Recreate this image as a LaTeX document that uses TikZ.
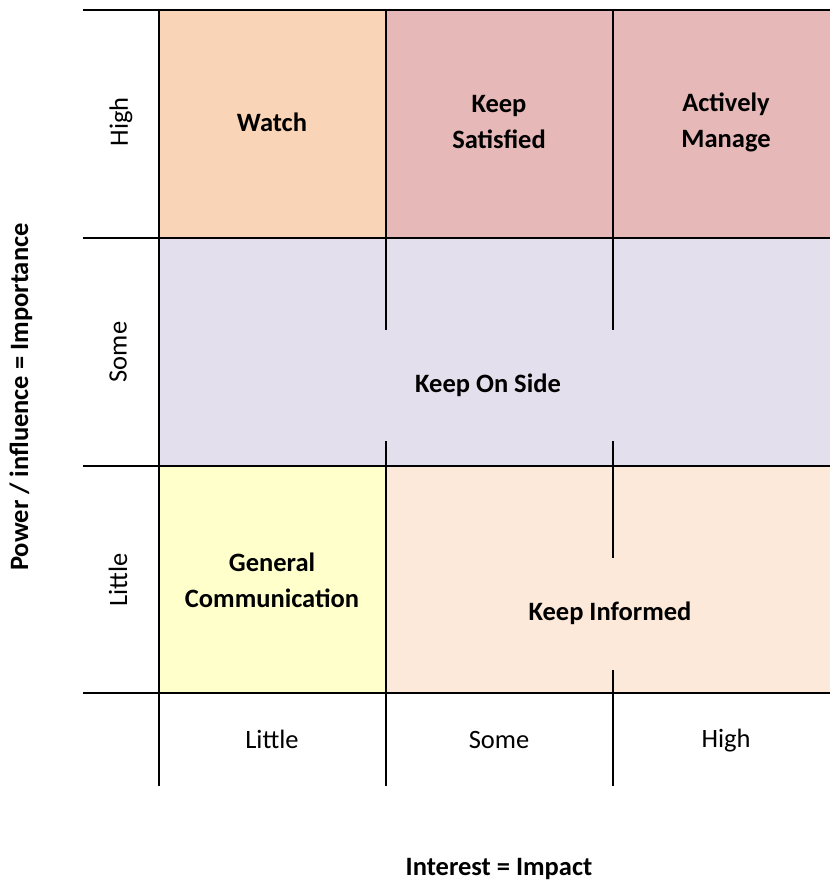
\documentclass[tikz,border=0pt]{standalone}
\usepackage{fontspec}
\setmainfont{Carlito}
\definecolor{cWatch}{HTML}{FAD4B6}
\definecolor{cSat}{HTML}{E6B8B7}
\definecolor{cSide}{HTML}{E4DFEC}
\definecolor{cGen}{HTML}{FFFFCC}
\definecolor{cInf}{HTML}{FDE9DA}
\tikzset{
  grid/.style={line width=2.4pt, black},
  celltext/.style={font=\fontsize{26.5}{36}\selectfont\bfseries, align=center, text=black},
  axtext/.style={font=\fontsize{26.5}{30}\selectfont, text=black},
  axtitle/.style={font=\fontsize{26.5}{30}\selectfont\bfseries, text=black}
}
\begin{document}
\begin{tikzpicture}[x=1pt, y=-1pt]
\useasboundingbox (0,0) rectangle (830,882);
% fills
\fill[cWatch] (159,10) rectangle (386,238);
\fill[cSat] (386,10) rectangle (830,238);
\fill[cSide] (159,238) rectangle (830,466);
\fill[cGen] (159,466) rectangle (386,693);
\fill[cInf] (386,466) rectangle (830,693);
% horizontal lines
\draw[grid] (83,10) -- (830,10);
\draw[grid] (83,238) -- (830,238);
\draw[grid] (83,466) -- (830,466);
\draw[grid] (83,693) -- (830,693);
% vertical lines
\draw[grid] (159,10) -- (159,786);
\draw[grid] (386,10) -- (386,330);
\draw[grid] (386,441) -- (386,786);
\draw[grid] (613,10) -- (613,330);
\draw[grid] (613,441) -- (613,558);
\draw[grid] (613,670) -- (613,786);
% cell labels
\node[celltext] (watch) at (272,122) {Watch};
\node[celltext] (sat) at (499,122) {Keep\\Satisfied};
\node[celltext] (act) at (726,122) {Actively\\Manage};
\node[celltext] (side) at (488,385) {Keep On Side};
\node[celltext] (gen) at (272,580) {General\\Communication};
\node[celltext] (inf) at (610,613) {Keep Informed};
% axis labels
\node[axtext] (xl) at (272,739) {Little};
\node[axtext] (xs) at (499,740) {Some};
\node[axtext] (xh) at (726,741) {High};
\node[axtext, rotate=90] (yh) at (121,122) {High};
\node[axtext, rotate=90] (ys) at (118,352) {Some};
\node[axtext, rotate=90] (yl) at (118,580) {Little};
\node[axtitle, rotate=90] (ytitle) at (21,397) {Power / influence = Importance};
\node[axtitle] (xtitle) at (499,869) {Interest = Impact};
\end{tikzpicture}
\end{document}
